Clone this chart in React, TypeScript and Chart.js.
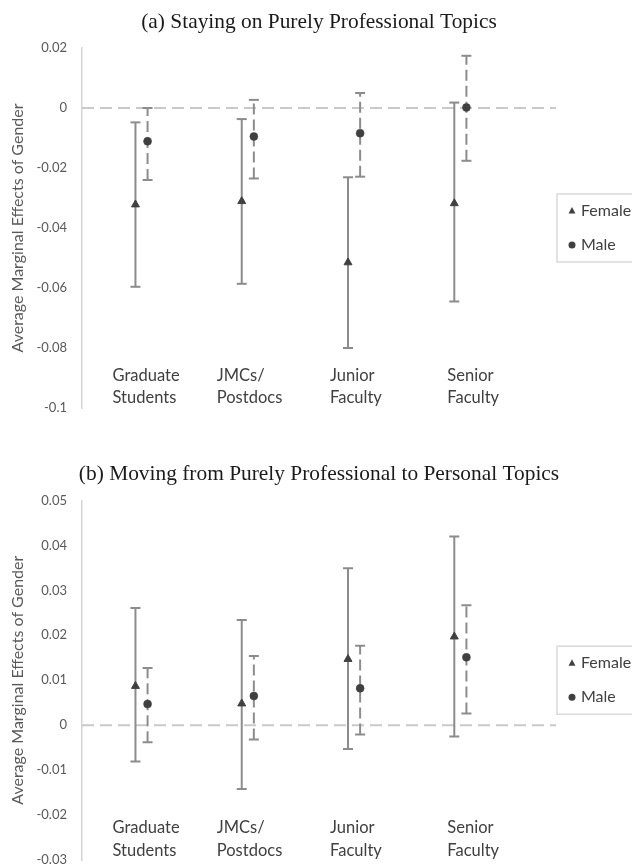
import React, { useEffect, useRef } from "react";
import { Chart, registerables } from "chart.js";
Chart.register(...registerables);

// ---------- data ----------
const categories = [
  ["Graduate", "Students"],
  ["JMCs/", "Postdocs"],
  ["Junior", "Faculty"],
  ["Senior", "Faculty"],
];
const seriesNames = ["Female", "Male"];

const titleA = "(a) Staying on Purely Professional Topics";
const femaleA = [-0.0322, -0.0311, -0.0515, -0.0318];
const femaleLowA = [-0.0596, -0.0586, -0.08, -0.0645];
const femaleHighA = [-0.0048, -0.0037, -0.0231, 0.0018];
const maleA = [-0.0111, -0.0095, -0.0084, 0.0002];
const maleLowA = [-0.024, -0.0235, -0.0229, -0.0176];
const maleHighA = [0.0, 0.0027, 0.005, 0.0174];
const yTicksA = [-0.1, -0.08, -0.06, -0.04, -0.02, 0, 0.02];
const yTickLabelsA = ["-0.1", "-0.08", "-0.06", "-0.04", "-0.02", "0", "0.02"];

const titleB = "(b) Moving from Purely Professional to Personal Topics";
const femaleB = [0.0087, 0.0048, 0.0147, 0.0197];
const femaleLowB = [-0.0081, -0.0142, -0.0053, -0.0025];
const femaleHighB = [0.0261, 0.0234, 0.0349, 0.042];
const maleB = [0.0047, 0.0065, 0.0082, 0.0151];
const maleLowB = [-0.0038, -0.0032, -0.0021, 0.0026];
const maleHighB = [0.0127, 0.0154, 0.0177, 0.0267];
const yTicksB = [-0.03, -0.02, -0.01, 0, 0.01, 0.02, 0.03, 0.04, 0.05];
const yTickLabelsB = ["-0.03", "-0.02", "-0.01", "0", "0.01", "0.02", "0.03", "0.04", "0.05"];

const yTitle = "Average Marginal Effects of Gender";

// ---------- styles / layout ----------
const SANS = "Lato, 'Open Sans', sans-serif";
const SERIF = "'Liberation Serif', 'DejaVu Serif', serif";
const X_MIN = 0.44;
const X_MAX = 4.9;
const SERIES_OFF = 0.057;
const LABEL_DX = [-29, -31, -24, -13];
const MARKER = "#404040";
const WHISKER = "#8c8c8c";
const ZERO = "#c9c9c9";
const BOTTOM_PAD = 30;

type Panel = {
  title: string;
  female: number[];
  femaleLow: number[];
  femaleHigh: number[];
  male: number[];
  maleLow: number[];
  maleHigh: number[];
  yTicks: number[];
  yTickLabels: string[];
  titlePadTop: number;
  titlePadBottom: number;
  labelDy: number[];
};

function whiskerData(off: number, low: number[], high: number[]) {
  const out: { x: number; y: number | null }[] = [];
  low.forEach((l, i) => {
    const x = i + 1 + off;
    out.push({ x, y: l }, { x, y: high[i] }, { x, y: null });
  });
  return out;
}

function makeExtras(p: Panel) {
  return {
    id: "extras",
    afterDraw(chart: any) {
      const { ctx, chartArea: ca, scales } = chart;
      const xs = scales.x;
      ctx.save();
      // category labels inside the plot
      ctx.font = `16.5px ${SANS}`;
      ctx.fillStyle = "#404040";
      ctx.textAlign = "left";
      ctx.textBaseline = "middle";
      categories.forEach((lines, i) => {
        const x = xs.getPixelForValue(i + 1) + LABEL_DX[i];
        ctx.fillText(lines[0], x, ca.bottom + p.labelDy[0]);
        ctx.fillText(lines[1], x, ca.bottom + p.labelDy[1]);
      });
      // legend
      const cy = (ca.top + ca.bottom) / 2;
      const lx = ca.right + 1;
      ctx.fillStyle = "#ffffff";
      ctx.fillRect(lx, cy - 34, 130, 68);
      ctx.strokeStyle = "#d9d9d9";
      ctx.lineWidth = 1.5;
      ctx.strokeRect(lx, cy - 34, 130, 68);
      const ds = chart.data.datasets;
      const tx = lx + 15, ty = cy - 17, r = 4;
      ctx.fillStyle = ds[0].backgroundColor;
      ctx.beginPath();
      ctx.moveTo(tx, ty - r);
      ctx.lineTo(tx + r * 0.866, ty + r * 0.5 + 0.5);
      ctx.lineTo(tx - r * 0.866, ty + r * 0.5 + 0.5);
      ctx.closePath();
      ctx.fill();
      ctx.fillStyle = ds[1].backgroundColor;
      ctx.beginPath();
      ctx.arc(tx, cy + 17, 3.5, 0, Math.PI * 2);
      ctx.fill();
      ctx.font = `16px ${SANS}`;
      ctx.fillStyle = "#404040";
      ctx.fillText(ds[0].label, lx + 24, cy - 17);
      ctx.fillText(ds[1].label, lx + 24, cy + 17);
      ctx.restore();
    },
  };
}

function makeConfig(p: Panel): any {
  return {
    type: "scatter",
    data: {
      datasets: [
        {
          label: seriesNames[0],
          data: p.female.map((v, i) => ({ x: i + 1 - SERIES_OFF, y: v })),
          pointStyle: "triangle",
          pointRadius: 4.6,
          backgroundColor: MARKER,
          borderColor: MARKER,
          borderWidth: 1,
          showLine: false,
        },
        {
          label: seriesNames[1],
          data: p.male.map((v, i) => ({ x: i + 1 + SERIES_OFF, y: v })),
          pointStyle: "circle",
          pointRadius: 4,
          backgroundColor: MARKER,
          borderColor: MARKER,
          borderWidth: 0.5,
          showLine: false,
        },
        {
          label: "femaleCI",
          data: whiskerData(-SERIES_OFF, p.femaleLow, p.femaleHigh),
          showLine: true,
          spanGaps: false,
          borderColor: WHISKER,
          borderWidth: 2,
          pointStyle: "line",
          pointRadius: 5,
          pointBorderWidth: 2,
          pointBorderColor: WHISKER,
          pointBackgroundColor: WHISKER,
        },
        {
          label: "maleCI",
          data: whiskerData(SERIES_OFF, p.maleLow, p.maleHigh),
          showLine: true,
          spanGaps: false,
          borderColor: WHISKER,
          borderWidth: 2,
          borderDash: [11, 5],
          pointStyle: "line",
          pointRadius: 5,
          pointBorderWidth: 2,
          pointBorderColor: WHISKER,
          pointBackgroundColor: WHISKER,
        },
        {
          label: "zero",
          data: [
            { x: X_MIN, y: 0 },
            { x: X_MAX, y: 0 },
          ],
          showLine: true,
          borderColor: ZERO,
          borderWidth: 2,
          borderDash: [12, 6],
          pointRadius: 0,
        },
      ],
    },
    options: {
      responsive: false,
      animation: false,
      events: [],
      layout: { padding: { left: 6, right: 0, top: 0, bottom: BOTTOM_PAD } },
      plugins: {
        legend: { display: false },
        tooltip: { enabled: false },
        title: {
          display: true,
          text: p.title,
          color: "#1a1a1a",
          font: { family: SERIF, size: 21.4, weight: "normal", lineHeight: 1.2 },
          padding: { top: p.titlePadTop, bottom: p.titlePadBottom },
        },
      },
      scales: {
        x: { type: "linear", display: false, min: X_MIN, max: X_MAX },
        y: {
          type: "linear",
          position: "left",
          min: p.yTicks[0],
          max: p.yTicks[p.yTicks.length - 1],
          afterFit: (s: any) => {
            s.width = 76;
          },
          afterBuildTicks: (s: any) => {
            s.ticks = p.yTicks.map((v) => ({ value: v }));
          },
          grid: { display: false, drawTicks: false },
          border: { display: true, color: "#d4d4d4", width: 1.5 },
          ticks: {
            padding: 15,
            color: "#595959",
            font: { family: SANS, size: 13 },
            callback: (_v: any, i: number) => p.yTickLabels[i],
          },
          title: {
            display: true,
            text: yTitle,
            color: "#595959",
            font: { family: SANS, size: 16, lineHeight: 1.2 },
            padding: { top: 2.4, bottom: 0 },
          },
        },
        yRight: {
          type: "linear",
          position: "right",
          display: true,
          afterFit: (s: any) => {
            s.width = 76;
          },
          grid: { display: false, drawTicks: false },
          border: { display: false },
          ticks: { display: false },
        },
      },
    },
    plugins: [makeExtras(p)],
  };
}

function ChartCanvas({ panel, top, height }: { panel: Panel; top: number; height: number }) {
  const ref = useRef<HTMLCanvasElement | null>(null);
  useEffect(() => {
    if (!ref.current) return;
    const chart = new Chart(ref.current, makeConfig(panel));
    return () => chart.destroy();
  }, [panel]);
  return (
    <canvas
      ref={ref}
      width={632}
      height={height}
      style={{ position: "absolute", left: 0, top, width: 632, height, display: "block" }}
    />
  );
}

const panelA: Panel = {
  title: titleA,
  female: femaleA,
  femaleLow: femaleLowA,
  femaleHigh: femaleHighA,
  male: maleA,
  maleLow: maleLowA,
  maleHigh: maleHighA,
  yTicks: yTicksA,
  yTickLabels: yTickLabelsA,
  titlePadTop: 9.6,
  titlePadBottom: 12.7,
  labelDy: [-32, -10],
};

const panelB: Panel = {
  title: titleB,
  female: femaleB,
  femaleLow: femaleLowB,
  femaleHigh: femaleHighB,
  male: maleB,
  maleLow: maleLowB,
  maleHigh: maleHighB,
  yTicks: yTicksB,
  yTickLabels: yTickLabelsB,
  titlePadTop: 31.6,
  titlePadBottom: 13.2,
  labelDy: [-32, -9],
};

export default function App() {
  return (
    <div
      style={{
        position: "absolute",
        left: 0,
        top: 0,
        width: 632,
        height: 867,
        overflow: "hidden",
        background: "#ffffff",
      }}
    >
      <ChartCanvas panel={panelA} top={0} height={408 + BOTTOM_PAD} />
      <ChartCanvas panel={panelB} top={430} height={430 + BOTTOM_PAD} />
    </div>
  );
}
